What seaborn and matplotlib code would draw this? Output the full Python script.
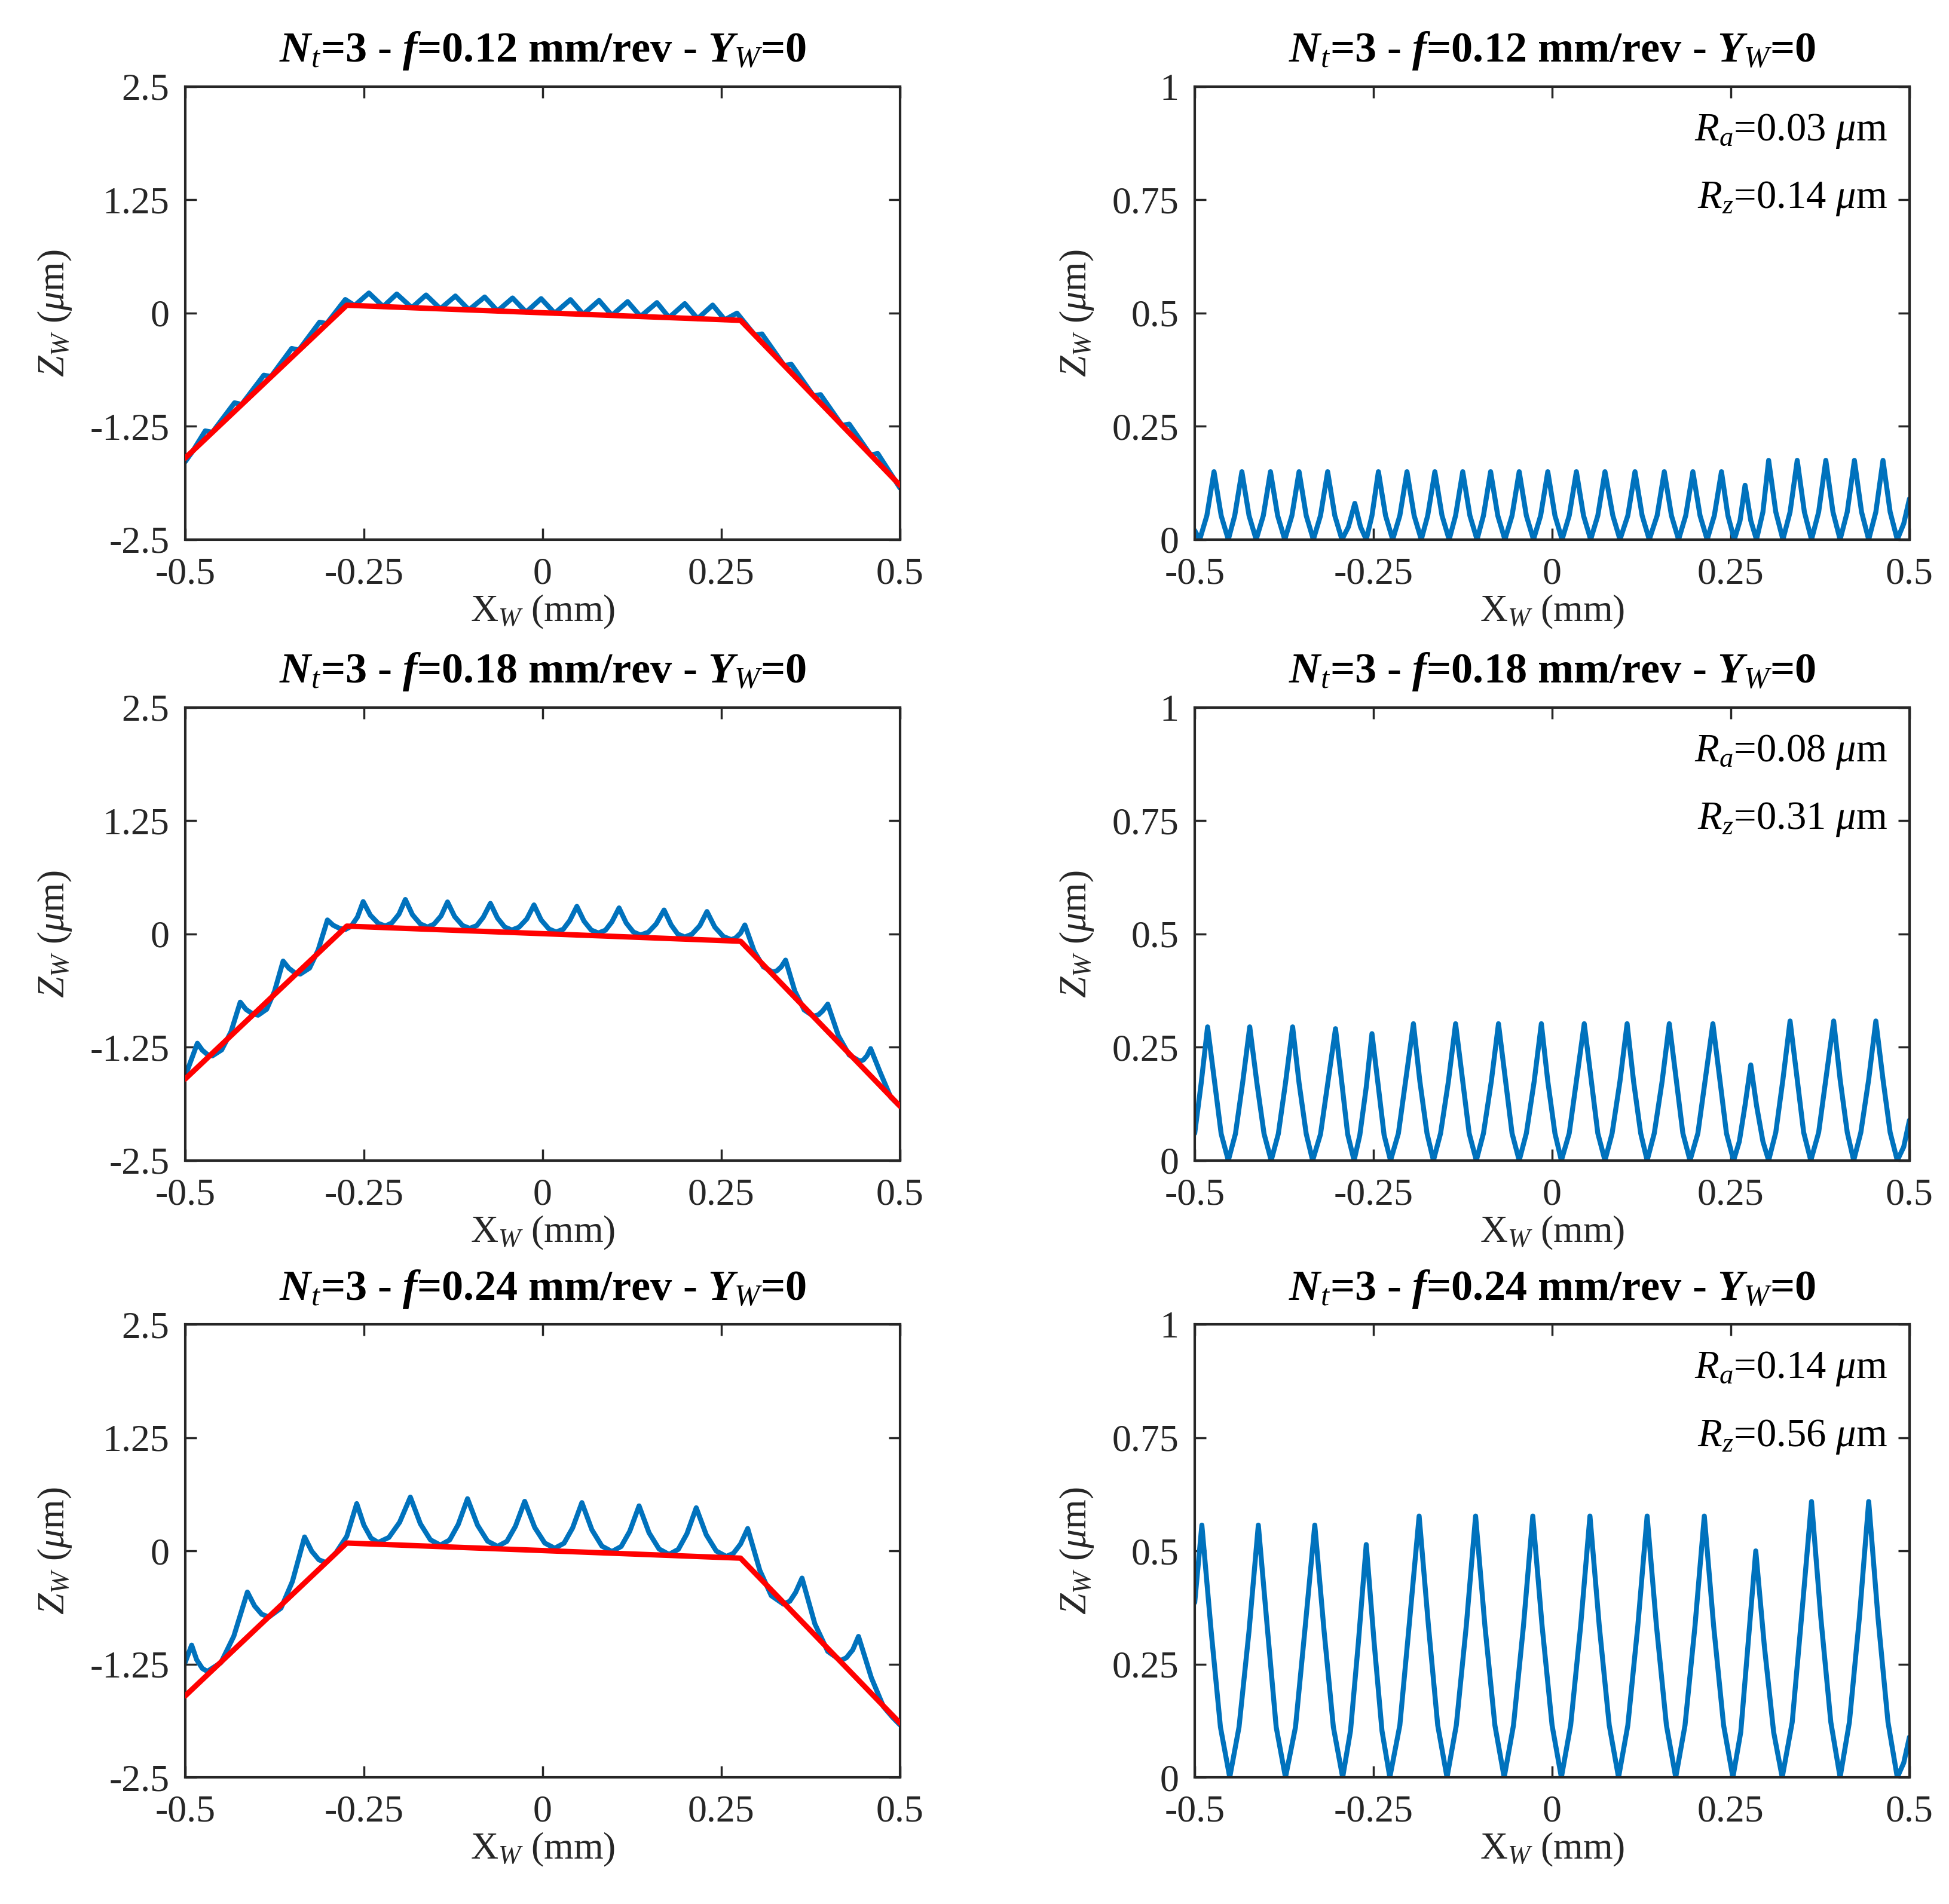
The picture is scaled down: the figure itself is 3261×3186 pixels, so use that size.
import matplotlib
matplotlib.use("Agg")
import matplotlib.pyplot as plt
import seaborn as sns

# ------------------------------------------------------------------ data
feed_labels = ["0.12", "0.18", "0.24"]
ra_labels = ["0.03", "0.08", "0.14"]
rz_labels = ["0.14", "0.31", "0.56"]

x_ticks = [-0.5, -0.25, 0, 0.25, 0.5]
x_tick_labels = ["-0.5", "-0.25", "0", "0.25", "0.5"]
left_y_ticks = [-2.5, -1.25, 0, 1.25, 2.5]
left_y_tick_labels = ["-2.5", "-1.25", "0", "1.25", "2.5"]
right_y_ticks = [0, 0.25, 0.5, 0.75, 1]
right_y_tick_labels = ["0", "0.25", "0.5", "0.75", "1"]

# nominal (red) profile, same in all three left panels
nominal_x = [-0.500, -0.274, 0.277, 0.500]
nominal_z = [-1.60, 0.087, -0.080, -1.90]

# ---- left column: machined profile Z_W (um) vs X_W (mm)
prof12_x = [-0.500, -0.490, -0.472, -0.462, -0.431, -0.421, -0.390, -0.380,
            -0.351, -0.341, -0.312, -0.302, -0.276, -0.263, -0.243, -0.223,
            -0.204, -0.183, -0.163, -0.143, -0.122, -0.103, -0.081, -0.063,
            -0.042, -0.023, -0.002, 0.017, 0.039, 0.057, 0.079, 0.097,
            0.119, 0.137, 0.160, 0.177, 0.199, 0.217, 0.238, 0.255,
            0.272, 0.297, 0.307, 0.338, 0.348, 0.379, 0.389, 0.419,
            0.429, 0.459, 0.469, 0.500]
prof12_z = [-1.64, -1.53, -1.30, -1.315, -0.99, -1.0075, -0.685, -0.70,
            -0.39, -0.4075, -0.10, -0.115, 0.15, 0.084, 0.222, 0.072,
            0.211, 0.060, 0.200, 0.048, 0.189, 0.036, 0.178, 0.024,
            0.167, 0.011, 0.160, -0.001, 0.149, -0.013, 0.140, -0.025,
            0.127, -0.037, 0.116, -0.049, 0.105, -0.061, 0.089, -0.073,
            0.0, -0.243, -0.23, -0.578, -0.565, -0.912, -0.90, -1.239,
            -1.225, -1.565, -1.55, -1.93]

prof18_x = [-0.500,
            -0.483, -0.476, -0.469, -0.462, -0.449, -0.436,
            -0.423, -0.415, -0.406, -0.398, -0.386, -0.375,
            -0.363, -0.355, -0.347, -0.339, -0.326, -0.314,
            -0.301, -0.293, -0.284, -0.276, -0.268, -0.259,
            -0.251, -0.241, -0.230, -0.220, -0.211, -0.201,
            -0.192, -0.182, -0.171, -0.161, -0.152, -0.142,
            -0.133, -0.123, -0.112, -0.102, -0.092, -0.083,
            -0.073, -0.063, -0.053, -0.043, -0.033, -0.022,
            -0.012, -0.002, 0.009, 0.019, 0.029, 0.038,
            0.048, 0.058, 0.068, 0.078, 0.088, 0.097,
            0.107, 0.117, 0.127, 0.137, 0.148, 0.159,
            0.170, 0.180, 0.189, 0.199, 0.209, 0.220,
            0.230, 0.241, 0.253, 0.264, 0.270, 0.277,
            0.283, 0.296, 0.309, 0.322, 0.328, 0.334,
            0.340, 0.353, 0.366, 0.379, 0.386, 0.392,
            0.399, 0.414, 0.429, 0.444, 0.449, 0.454,
            0.459, 0.472, 0.487, 0.500]
prof18_z = [-1.57,
            -1.206, -1.283, -1.330, -1.345, -1.279, -1.081,
            -0.752, -0.832, -0.880, -0.896, -0.830, -0.631,
            -0.299, -0.378, -0.426, -0.442, -0.376, -0.177,
            0.155, 0.097, 0.062, 0.050, 0.084, 0.187,
            0.358, 0.208, 0.118, 0.088, 0.121, 0.218,
            0.381, 0.212, 0.111, 0.077, 0.108, 0.200,
            0.354, 0.192, 0.094, 0.062, 0.093, 0.185,
            0.338, 0.175, 0.077, 0.044, 0.075, 0.167,
            0.321, 0.155, 0.055, 0.022, 0.053, 0.148,
            0.305, 0.142, 0.044, 0.011, 0.042, 0.134,
            0.288, 0.122, 0.022, -0.011, 0.020, 0.112,
            0.265, 0.099, 0.000, -0.033, -0.002, 0.092,
            0.248, 0.076, -0.028, -0.062, -0.044, 0.010,
            0.100, -0.189, -0.362, -0.420, -0.405, -0.361,
            -0.288, -0.632, -0.838, -0.907, -0.892, -0.848,
            -0.774, -1.125, -1.335, -1.405, -1.389, -1.343,
            -1.265, -1.52, -1.80, -1.90]

prof24_x = [-0.500,
            -0.491, -0.484, -0.476, -0.469, -0.450, -0.432,
            -0.413, -0.403, -0.393, -0.383, -0.366, -0.350,
            -0.333, -0.323, -0.313, -0.303, -0.289, -0.274,
            -0.260, -0.250, -0.240, -0.230, -0.215, -0.200,
            -0.185, -0.171, -0.157, -0.143, -0.130, -0.118,
            -0.105, -0.091, -0.077, -0.063, -0.050, -0.038,
            -0.025, -0.011, 0.003, 0.017, 0.030, 0.042,
            0.055, 0.069, 0.083, 0.097, 0.110, 0.122,
            0.135, 0.149, 0.163, 0.177, 0.190, 0.202,
            0.215, 0.229, 0.243, 0.257, 0.267, 0.277,
            0.287, 0.304, 0.320, 0.337, 0.346, 0.354,
            0.363, 0.381, 0.399, 0.417, 0.425, 0.434,
            0.442, 0.460, 0.477, 0.490, 0.500]
prof24_z = [-1.230,
            -1.040, -1.201, -1.298, -1.330, -1.233, -0.941,
            -0.454, -0.607, -0.699, -0.730, -0.632, -0.337,
            0.154, -0.003, -0.098, -0.129, -0.020, 0.160,
            0.522, 0.284, 0.141, 0.093, 0.149, 0.316,
            0.594, 0.300, 0.123, 0.064, 0.121, 0.292,
            0.576, 0.284, 0.108, 0.050, 0.105, 0.271,
            0.547, 0.259, 0.087, 0.029, 0.085, 0.253,
            0.533, 0.233, 0.053, -0.007, 0.049, 0.217,
            0.497, 0.199, 0.021, -0.039, 0.018, 0.190,
            0.476, 0.178, -0.001, -0.061, -0.027, 0.076,
            0.247, -0.216, -0.494, -0.587, -0.555, -0.459,
            -0.300, -0.806, -1.109, -1.210, -1.180, -1.092,
            -0.944, -1.400, -1.720, -1.840, -1.920]

# ---- right column: roughness profile Z_W (um) vs X_W (mm)
rough12_x = [-0.500, -0.493,
             -0.483, -0.473, -0.463, -0.453,
             -0.444, -0.434, -0.424, -0.414,
             -0.404, -0.394, -0.384, -0.374,
             -0.364, -0.354, -0.344, -0.334,
             -0.324, -0.314, -0.304, -0.294,
             -0.285, -0.276, -0.268, -0.260,
             -0.252, -0.243, -0.233, -0.223,
             -0.213, -0.203, -0.193, -0.183,
             -0.174, -0.164, -0.154, -0.144,
             -0.135, -0.125, -0.115, -0.105,
             -0.096, -0.086, -0.076, -0.066,
             -0.056, -0.046, -0.036, -0.026,
             -0.016, -0.006, 0.004, 0.014,
             0.024, 0.034, 0.044, 0.054,
             0.064, 0.074, 0.085, 0.095,
             0.106, 0.116, 0.126, 0.136,
             0.147, 0.157, 0.167, 0.177,
             0.187, 0.197, 0.207, 0.217,
             0.227, 0.237, 0.246, 0.255,
             0.263, 0.270, 0.278, 0.286,
             0.295, 0.303, 0.313, 0.323,
             0.333, 0.343, 0.353, 0.363,
             0.373, 0.383, 0.393, 0.403,
             0.413, 0.423, 0.433, 0.443,
             0.453, 0.463, 0.473, 0.483,
             0.492, 0.500]
rough12_z = [0.020, 0.0,
             0.053, 0.150, 0.053, 0.0,
             0.053, 0.150, 0.053, 0.0,
             0.053, 0.150, 0.053, 0.0,
             0.053, 0.150, 0.053, 0.0,
             0.053, 0.150, 0.053, 0.0,
             0.028, 0.080, 0.028, 0.0,
             0.053, 0.150, 0.053, 0.0,
             0.053, 0.150, 0.053, 0.0,
             0.053, 0.150, 0.053, 0.0,
             0.053, 0.150, 0.053, 0.0,
             0.053, 0.150, 0.053, 0.0,
             0.053, 0.150, 0.053, 0.0,
             0.053, 0.150, 0.053, 0.0,
             0.053, 0.150, 0.053, 0.0,
             0.053, 0.150, 0.053, 0.0,
             0.053, 0.150, 0.053, 0.0,
             0.053, 0.150, 0.053, 0.0,
             0.053, 0.150, 0.053, 0.0,
             0.053, 0.150, 0.053, 0.0,
             0.042, 0.120, 0.042, 0.0,
             0.061, 0.175, 0.061, 0.0,
             0.061, 0.175, 0.061, 0.0,
             0.061, 0.175, 0.061, 0.0,
             0.061, 0.175, 0.061, 0.0,
             0.061, 0.175, 0.061, 0.0,
             0.035, 0.090]

rough18_x = [-0.500, -0.491,
             -0.482, -0.472, -0.463, -0.453,
             -0.443, -0.433, -0.423, -0.413, -0.403, -0.393,
             -0.383, -0.373, -0.363, -0.354, -0.344, -0.335,
             -0.324, -0.314, -0.303, -0.294, -0.286, -0.277,
             -0.269, -0.260, -0.252, -0.243, -0.235, -0.226,
             -0.215, -0.205, -0.194, -0.185, -0.175, -0.166,
             -0.156, -0.145, -0.135, -0.125, -0.116, -0.106,
             -0.096, -0.085, -0.075, -0.065, -0.056, -0.046,
             -0.036, -0.025, -0.015, -0.006, 0.004, 0.013,
             0.024, 0.034, 0.045, 0.055, 0.064, 0.074,
             0.084, 0.095, 0.105, 0.114, 0.124, 0.133,
             0.143, 0.154, 0.164, 0.174, 0.183, 0.193,
             0.204, 0.214, 0.225, 0.235, 0.244, 0.254,
             0.262, 0.270, 0.278, 0.286, 0.295, 0.303,
             0.313, 0.323, 0.333, 0.343, 0.352, 0.362,
             0.373, 0.383, 0.394, 0.403, 0.413, 0.422,
             0.432, 0.443, 0.453, 0.463, 0.473, 0.483,
             0.492, 0.500]
rough18_z = [0.060, 0.170,
             0.295, 0.171, 0.059, 0.0,
             0.059, 0.171, 0.295, 0.171, 0.059, 0.0,
             0.059, 0.171, 0.295, 0.171, 0.059, 0.0,
             0.058, 0.169, 0.291, 0.169, 0.058, 0.0,
             0.056, 0.162, 0.280, 0.162, 0.056, 0.0,
             0.060, 0.175, 0.302, 0.175, 0.060, 0.0,
             0.060, 0.175, 0.302, 0.175, 0.060, 0.0,
             0.060, 0.175, 0.302, 0.175, 0.060, 0.0,
             0.060, 0.175, 0.302, 0.175, 0.060, 0.0,
             0.060, 0.175, 0.302, 0.175, 0.060, 0.0,
             0.060, 0.175, 0.302, 0.175, 0.060, 0.0,
             0.060, 0.175, 0.302, 0.175, 0.060, 0.0,
             0.060, 0.175, 0.302, 0.175, 0.060, 0.0,
             0.042, 0.122, 0.211, 0.122, 0.042, 0.0,
             0.062, 0.179, 0.308, 0.179, 0.062, 0.0,
             0.062, 0.179, 0.308, 0.179, 0.062, 0.0,
             0.062, 0.179, 0.308, 0.179, 0.062, 0.0,
             0.030, 0.089]

rough24_x = [-0.500,
             -0.490, -0.477, -0.464, -0.451,
             -0.438, -0.424, -0.411, -0.398, -0.386, -0.373,
             -0.359, -0.346, -0.332, -0.319, -0.306, -0.293,
             -0.282, -0.271, -0.260, -0.249, -0.238, -0.227,
             -0.213, -0.200, -0.186, -0.173, -0.160, -0.147,
             -0.134, -0.120, -0.107, -0.094, -0.080, -0.067,
             -0.054, -0.040, -0.027, -0.014, 0.000, 0.013,
             0.026, 0.040, 0.053, 0.066, 0.080, 0.093,
             0.106, 0.120, 0.133, 0.146, 0.160, 0.173,
             0.186, 0.200, 0.213, 0.226, 0.240, 0.253,
             0.264, 0.274, 0.285, 0.297, 0.310, 0.322,
             0.336, 0.349, 0.363, 0.376, 0.390, 0.403,
             0.416, 0.430, 0.443, 0.456, 0.470, 0.483,
             0.492, 0.500]
rough24_z = [0.386,
             0.557, 0.323, 0.111, 0.0,
             0.111, 0.323, 0.557, 0.323, 0.111, 0.0,
             0.111, 0.323, 0.557, 0.323, 0.111, 0.0,
             0.103, 0.298, 0.514, 0.298, 0.103, 0.0,
             0.115, 0.335, 0.577, 0.335, 0.115, 0.0,
             0.115, 0.335, 0.577, 0.335, 0.115, 0.0,
             0.115, 0.335, 0.577, 0.335, 0.115, 0.0,
             0.115, 0.335, 0.577, 0.335, 0.115, 0.0,
             0.115, 0.335, 0.577, 0.335, 0.115, 0.0,
             0.115, 0.335, 0.577, 0.335, 0.115, 0.0,
             0.100, 0.290, 0.500, 0.290, 0.100, 0.0,
             0.122, 0.353, 0.609, 0.353, 0.122, 0.0,
             0.122, 0.353, 0.609, 0.353, 0.122, 0.0,
             0.032, 0.089]

left_profiles = [(prof12_x, prof12_z), (prof18_x, prof18_z), (prof24_x, prof24_z)]
right_profiles = [(rough12_x, rough12_z), (rough18_x, rough18_z), (rough24_x, rough24_z)]

# ------------------------------------------------------------------ style
sns.set_theme(style="white")
plt.rcParams["font.family"] = ["Liberation Serif", "DejaVu Serif"]
plt.rcParams["axes.unicode_minus"] = False
plt.rcParams["mathtext.fontset"] = "custom"
plt.rcParams["mathtext.rm"] = "Liberation Serif"
plt.rcParams["mathtext.it"] = "Liberation Serif:italic"
plt.rcParams["mathtext.bf"] = "Liberation Serif:bold"
HAS_BFIT = "mathtext.bfit" in plt.rcParams
if HAS_BFIT:
    plt.rcParams["mathtext.bfit"] = "Liberation Serif:italic:bold"
BI = r"\mathbfit" if HAS_BFIT else r"\mathit"

BLUE = "#0072BD"
RED = "#FF0000"
AXC = "#262626"
FS = 46

fig = plt.figure(figsize=(32.62, 31.86), dpi=100)
ax_w, ax_h = 0.3666, 0.2379
col_x0 = [0.0950, 0.6128]
row_y0 = [0.7166, 0.3905, 0.0665]


def style_axes(ax, yticks, ylabels, ylim):
    ax.set_xlim(-0.5, 0.5)
    ax.set_ylim(*ylim)
    ax.set_xticks(x_ticks)
    ax.set_xticklabels(x_tick_labels)
    ax.set_yticks(yticks)
    ax.set_yticklabels(ylabels)
    ax.tick_params(axis="both", direction="in", length=14, width=2.5,
                   top=True, right=True, bottom=True, left=True,
                   labelsize=FS, color=AXC, labelcolor=AXC)
    ax.tick_params(axis="x", pad=21)
    ax.tick_params(axis="y", pad=19)
    for sp in ax.spines.values():
        sp.set_visible(True)
        sp.set_linewidth(3)
        sp.set_color(AXC)
    ax.set_xlabel(r"$\mathrm{X}_{W}$ (mm)", fontsize=FS, color=AXC, labelpad=2)
    ax.set_ylabel(r"$Z_{W}$ ($\mu$m)", fontsize=FS, color=AXC, labelpad=20)


def title_for(feed):
    return (r"$" + BI + r"{N}_{\mathit{t}}$=3 - $" + BI + r"{f}$=" + feed +
            r" mm/rev - $" + BI + r"{Y}_{\mathit{W}}$=0")


for i in range(3):
    # left: profile with nominal
    axl = fig.add_axes([col_x0[0], row_y0[i], ax_w, ax_h])
    px, pz = left_profiles[i]
    sns.lineplot(x=px, y=pz, ax=axl, color=BLUE, linewidth=6, sort=False,
                 estimator=None, solid_joinstyle="round", zorder=2)
    sns.lineplot(x=nominal_x, y=nominal_z, ax=axl, color=RED, linewidth=6.5,
                 sort=False, estimator=None, solid_joinstyle="round", zorder=3)
    style_axes(axl, left_y_ticks, left_y_tick_labels, (-2.5, 2.5))
    axl.set_title(title_for(feed_labels[i]), fontsize=52, fontweight="bold",
                  color="black", pad=30)

    # right: roughness
    axr = fig.add_axes([col_x0[1], row_y0[i], ax_w, ax_h])
    rx, rz = right_profiles[i]
    sns.lineplot(x=rx, y=rz, ax=axr, color=BLUE, linewidth=6, sort=False,
                 estimator=None, solid_joinstyle="round", zorder=2)
    style_axes(axr, right_y_ticks, right_y_tick_labels, (0, 1))
    axr.set_title(title_for(feed_labels[i]), fontsize=52, fontweight="bold",
                  color="black", pad=30)
    axr.text(0.469, 0.902, r"$R_{a}$=" + ra_labels[i] + r" $\mu$m",
             ha="right", va="center", fontsize=48, color="black")
    axr.text(0.469, 0.752, r"$R_{z}$=" + rz_labels[i] + r" $\mu$m",
             ha="right", va="center", fontsize=48, color="black")

fig.savefig("out.png", dpi=100, facecolor="white")
